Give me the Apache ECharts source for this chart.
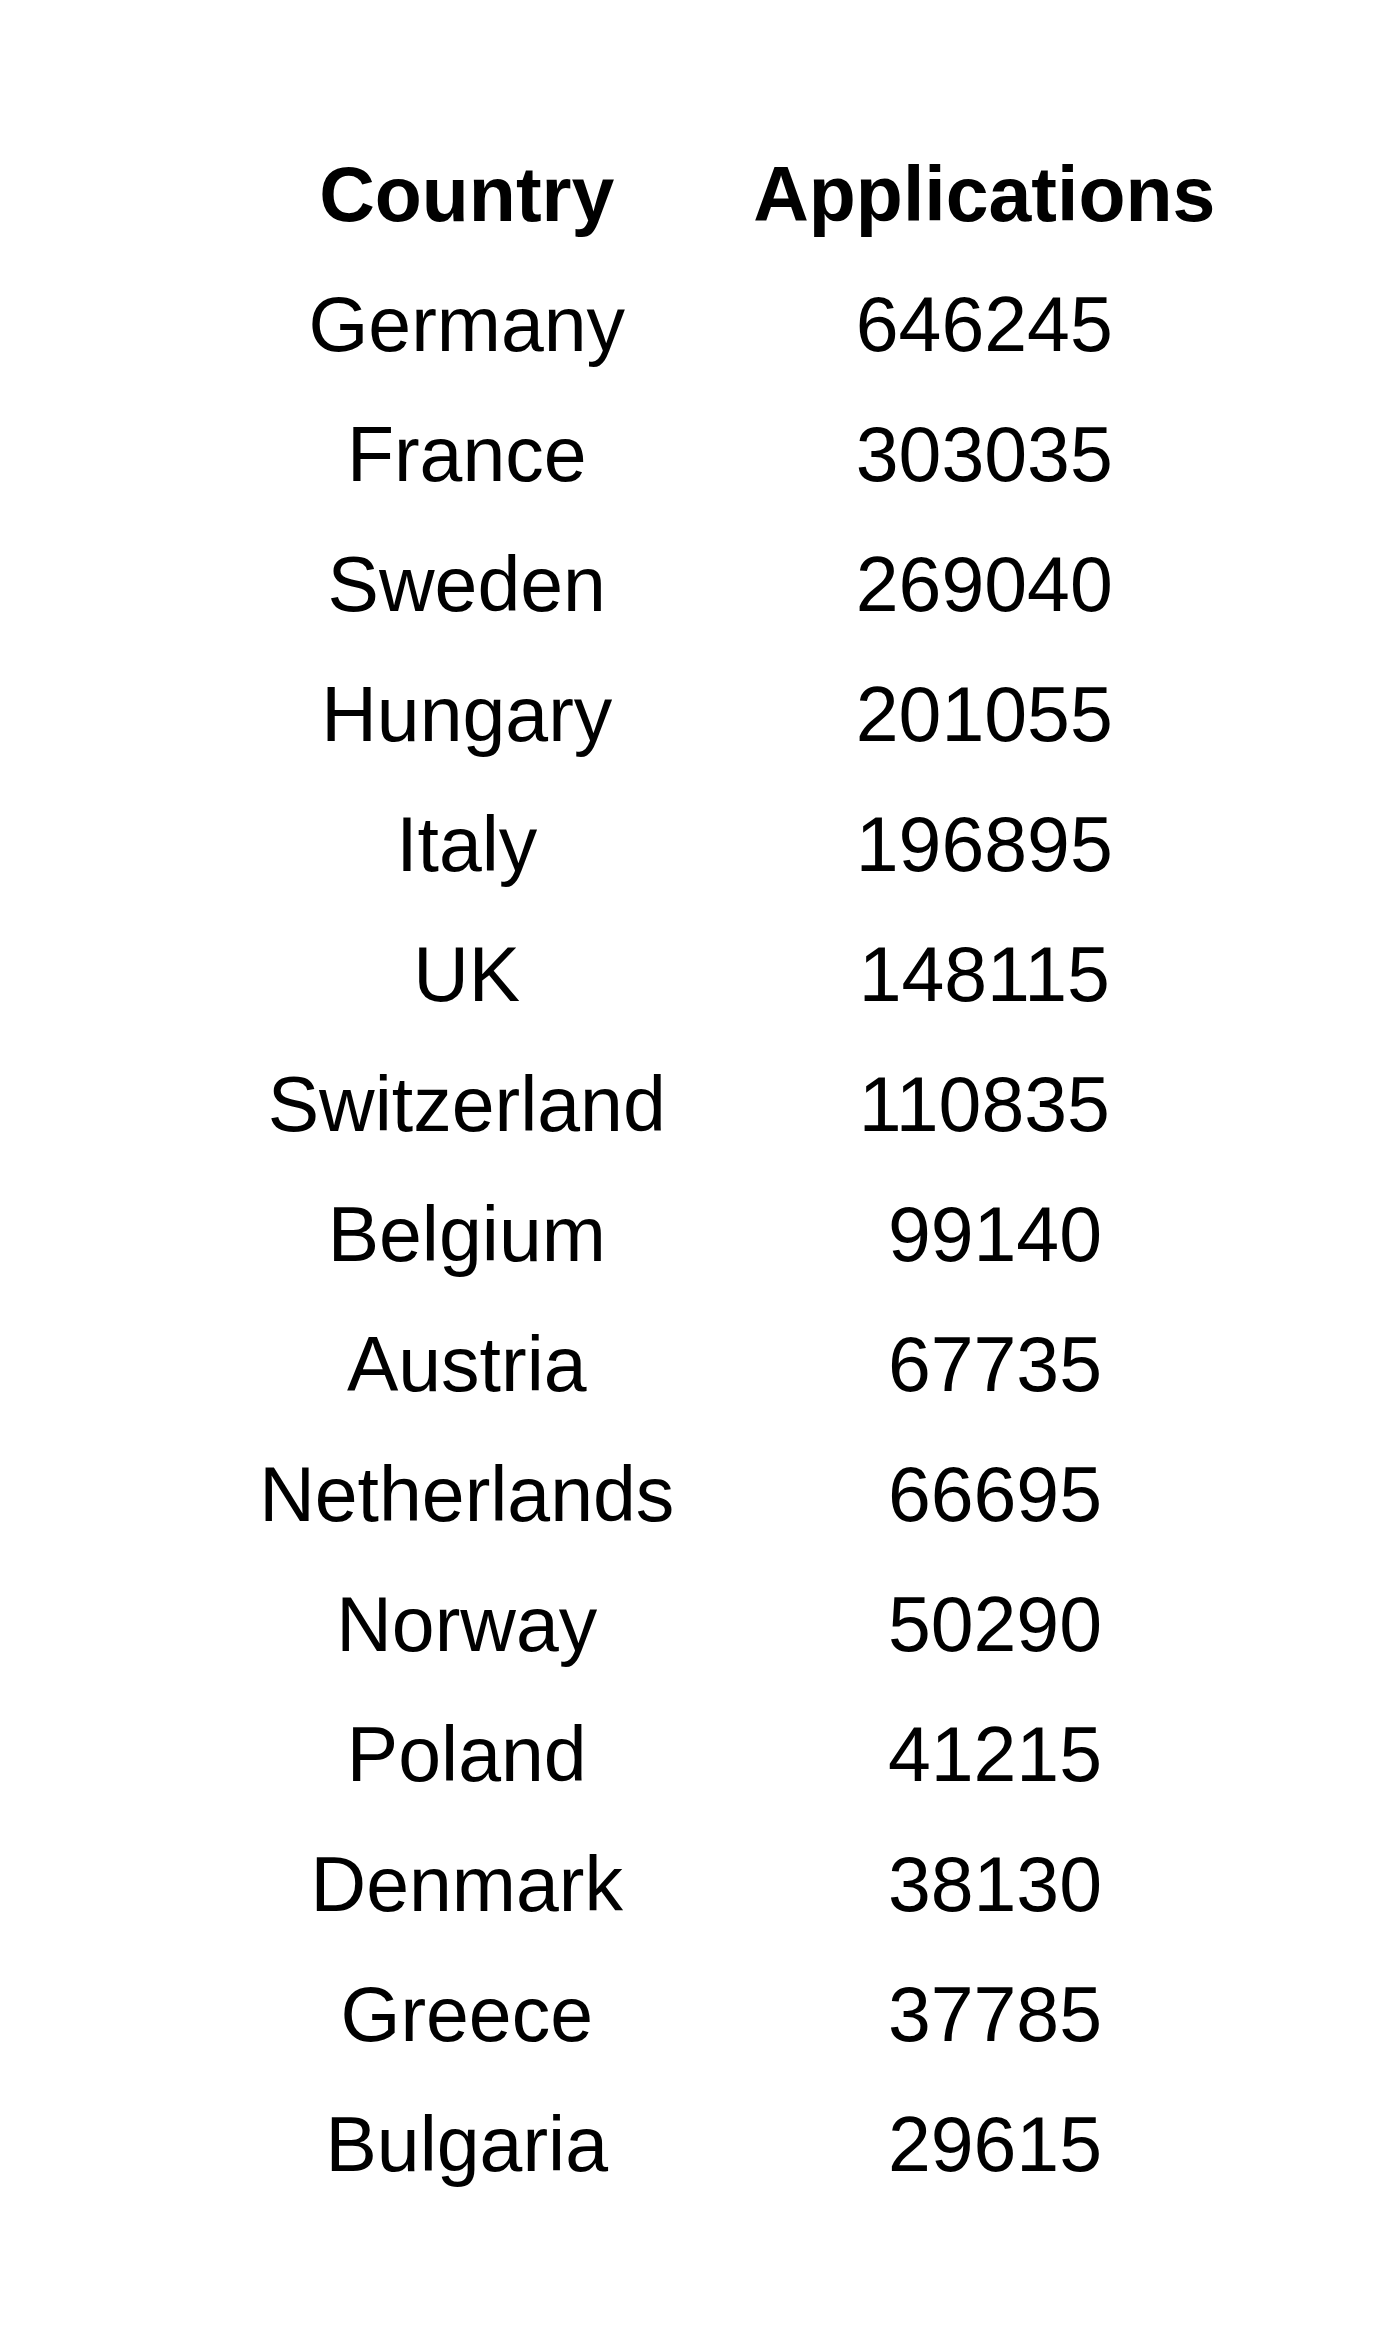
<!DOCTYPE html>
<html>
<head>
<meta charset="UTF-8">
<script type="text/javascript" src="https://cdn.jsdelivr.net/npm/echarts@6/dist/echarts.min.js"></script>
<title>Applications by country</title>
<style>
	html, body { margin:0; padding:0; background:#fff; }
</style>
</head>
<body>
	<div id="main" style="width:1400px;height:2333px;"></div>
	<script type="text/javascript">
		var headers = ['Country', 'Applications'];
		var countries = ['Germany','France','Sweden','Hungary','Italy','UK','Switzerland','Belgium',
			'Austria','Netherlands','Norway','Poland','Denmark','Greece','Bulgaria'];
		var applications = [646245,303035,269040,201055,196895,148115,110835,99140,
			67735,66695,50290,41215,38130,37785,29615];

		// row 0 is the header, rows 1..n are the countries
		var rows = ['header'].concat(countries);

		var headerData = [];
		for (var c = 0; c < headers.length; c++) {
			headerData.push({value: [c, 0], name: headers[c]});
		}
		var bodyData = [];
		for (var i = 0; i < countries.length; i++) {
			bodyData.push({value: [0, i + 1], name: countries[i]});
			// numbers are padded to 6 chars, like a fixed width column
			bodyData.push({value: [1, i + 1], name: String(applications[i]).padStart(6, ' ')});
		}

		var font = "'Liberation Sans', Arial, sans-serif";
		var myChart = echarts.init(document.getElementById("main"));
		var option = {
			backgroundColor: '#ffffff',
			animation: false,
			grid: {left: 208, right: 157, top: 135, bottom: 118},
			xAxis: {
				type: 'category',
				data: headers,
				show: false
			},
			yAxis: {
				type: 'category',
				data: rows,
				inverse: true,
				show: false
			},
			series: [{
				type: 'scatter',
				symbolSize: 0,
				itemStyle: {opacity: 1},
				data: headerData,
				label: {
					show: true,
					position: 'inside',
					formatter: '{b}',
					color: '#000000',
					opacity: 1,
					textBorderWidth: 0,
					fontFamily: font,
					fontWeight: 'bold',
					fontSize: 77
				}
			}, {
				type: 'scatter',
				symbolSize: 0,
				itemStyle: {opacity: 1},
				data: bodyData,
				label: {
					show: true,
					position: 'inside',
					formatter: '{b}',
					color: '#000000',
					opacity: 1,
					textBorderWidth: 0,
					fontFamily: font,
					fontSize: 77
				}
			}]
		};
		myChart.setOption(option);
	</script>
</body>
</html>
